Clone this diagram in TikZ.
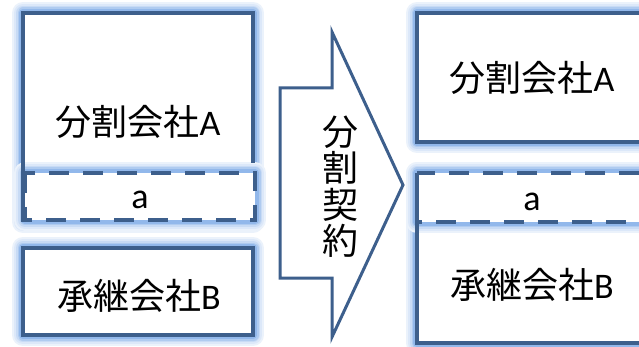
\documentclass[tikz,border=0pt]{standalone}
\usepackage{fontspec}
\setmainfont{Carlito}
\newfontfamily\cjk{Noto Sans CJK JP}
\definecolor{edge}{RGB}{61,95,140}
\definecolor{glowc}{RGB}{110,160,228}
\tikzset{
  border/.style={draw=edge, line width=4.5pt},
  dashborder/.style={draw=edge, line width=4.5pt, dash pattern=on 20pt off 14pt},
  lbl/.style={inner sep=0pt, font=\fontsize{36}{40}\selectfont},
  arrowshape/.style={draw=edge, line width=3pt, fill=white, line join=miter},
}
\newcommand{\glowbox}[2]{%
  \foreach \w/\c in {22/14, 18/24, 14/38, 11/55, 8/75}{%
    \draw[line width=\w pt, glowc!\c, line join=round] #1 rectangle #2;}%
  \fill[white] #1 rectangle #2;}
\begin{document}
\begin{tikzpicture}[x=1pt,y=-1pt]
\useasboundingbox (0,0) rectangle (639,347);
\clip (0,0) rectangle (639,347);
\fill[white] (0,0) rectangle (639,347);
% ---- left panel
\glowbox{(23,13)}{(253,222)}
\glowbox{(25,173)}{(255,220)}
\glowbox{(23,248)}{(253,335)}
\draw[border] (23,222) -- (23,13) -- (253,13) -- (253,163);
\draw[dashborder] (25,173) rectangle (255,220);
\draw[border] (23,168) -- (23,222);
\draw[border] (23,248) rectangle (253,335);
\node[lbl] (LA) at (138,122) {{\cjk 分割会社}A};
\node[lbl] (La) at (140,200) {a};
\node[lbl] (LB) at (139,296) {{\cjk 承継会社}B};
% ---- arrow
\draw[arrowshape] (280,88) -- (332,88) -- (332,32) -- (403,185) -- (332,337) -- (332,278) -- (280,278) -- cycle;
\node[lbl] (k1) at (340,132) {\cjk 分};
\node[lbl] (k2) at (340,168) {\cjk 割};
\node[lbl] (k3) at (340,205) {\cjk 契};
\node[lbl] (k4) at (340,241) {\cjk 約};
% ---- right panel
\glowbox{(417,13)}{(700,142)}
\glowbox{(417,173)}{(700,343)}
\glowbox{(417,173)}{(700,222)}
\draw[border] (417,13) rectangle (700,142);
\draw[border] (417,222) -- (417,343) -- (700,343);
\draw[border] (417,173) -- (417,222);
\draw[dashborder] (417,173) rectangle (700,222);
\node[lbl] (RA) at (532,78) {{\cjk 分割会社}A};
\node[lbl] (Ra) at (532,202) {a};
\node[lbl] (RB) at (532,285) {{\cjk 承継会社}B};
\end{tikzpicture}
\end{document}
